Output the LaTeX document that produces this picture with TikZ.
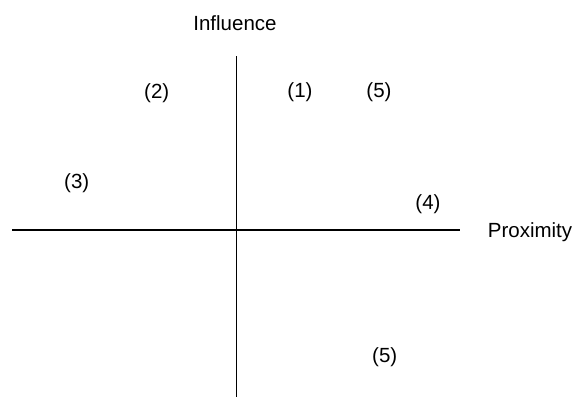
\documentclass[tikz,border=0pt]{standalone}
\usepackage{fontspec}
\setmainfont{Liberation Sans}
\begin{document}
\begin{tikzpicture}[x=1pt,y=-1pt,
  axis/.style={line width=1.8pt},
  lbl/.style={inner sep=0pt,font=\fontsize{20.5}{24}\selectfont}]
\useasboundingbox (0,0) rectangle (575,397);
\coordinate (vt) at (236.5,56);
\coordinate (vb) at (236.5,397);
\coordinate (hl) at (12,230);
\coordinate (hr) at (460,230);
\draw[axis] (vt) -- (vb);
\draw[axis] (hl) -- (hr);
\node[lbl] (infl) at (235,23) {Influence};
\node[lbl,anchor=base] (prox) at (530,237.3) {Proximity};
\node[lbl] (p1) at (300,92.5) {(1)};
\node[lbl] (p5a) at (379,92.5) {(5)};
\node[lbl] (p2) at (156.7,93.3) {(2)};
\node[lbl] (p3) at (76.7,183) {(3)};
\node[lbl] (p4) at (428,204) {(4)};
\node[lbl] (p5b) at (384.7,356.7) {(5)};
\end{tikzpicture}
\end{document}
